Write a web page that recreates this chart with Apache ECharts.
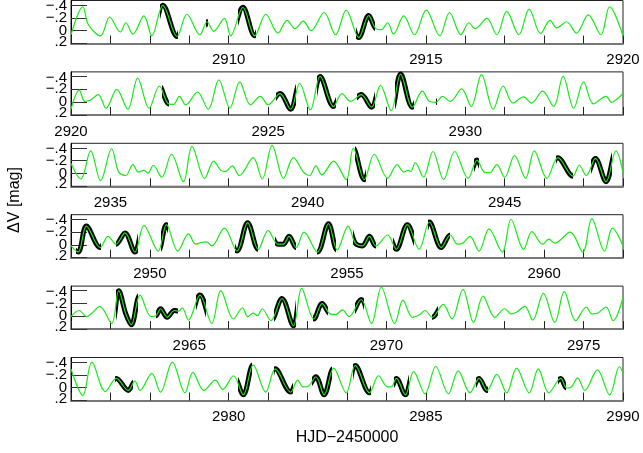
<!DOCTYPE html>
<html><head><meta charset="utf-8">
<script src="https://cdn.jsdelivr.net/npm/echarts@6/dist/echarts.min.js"></script>
<style>html,body{margin:0;padding:0;background:#fff}#c{width:643px;height:453px}</style>
</head><body><div id="c"></div>
<script>
// ---- data ----
const panelStarts = [2906, 2920, 2934, 2948, 2962, 2976];
const yTicks = [-0.4, -0.2, 0, 0.2];
const xTitle = 'HJD\u22122450000';
const yTitle = '\u0394V [mag]';

const model1 = [[2906.00,0.064],[2906.30,-0.373],[2906.44,-0.096],[2906.75,0.080],[2906.98,-0.213],[2907.25,0.021],[2907.39,-0.123],[2907.57,0.053],[2907.85,-0.229],[2908.05,0.080],[2908.33,-0.395],[2908.69,0.091],[2908.94,-0.256],[2909.27,0.064],[2909.45,-0.139],[2909.62,0.011],[2909.89,-0.192],[2910.05,0.080],[2910.36,-0.363],[2910.66,0.080],[2910.94,-0.256],[2911.25,0.037],[2911.48,-0.160],[2911.68,-0.032],[2911.89,-0.149],[2912.09,0.0],[2912.42,-0.283],[2912.71,0.064],[2912.98,-0.320],[2913.30,0.107],[2913.55,-0.235],[2913.73,-0.032],[2913.87,-0.016],[2914.03,-0.123],[2914.18,0.053],[2914.44,-0.229],[2914.71,0.064],[2915.01,-0.320],[2915.35,0.080],[2915.60,-0.283],[2915.89,0.064],[2916.09,-0.123],[2916.25,-0.032],[2916.55,-0.192],[2916.80,0.064],[2917.05,-0.299],[2917.36,0.064],[2917.62,-0.336],[2917.91,0.043],[2918.15,-0.160],[2918.32,-0.043],[2918.57,-0.139],[2918.82,0.037],[2919.12,-0.245],[2919.44,0.064],[2919.66,-0.373],[2920.00,0.080]];
const model2 = [[2920.00,0.112],[2920.21,-0.186],[2920.35,-0.011],[2920.48,-0.027],[2920.69,-0.117],[2920.89,0.096],[2921.16,-0.197],[2921.44,0.112],[2921.69,-0.372],[2921.98,0.096],[2922.24,-0.250],[2922.45,0.016],[2922.60,0.037],[2922.75,-0.090],[2922.91,0.043],[2923.21,-0.154],[2923.48,0.112],[2923.75,-0.346],[2924.03,0.096],[2924.28,-0.314],[2924.55,0.043],[2924.80,-0.090],[2925.00,0.043],[2925.30,-0.133],[2925.57,0.112],[2925.80,-0.293],[2926.07,0.122],[2926.32,-0.399],[2926.66,0.069],[2926.87,-0.133],[2927.09,-0.011],[2927.36,-0.117],[2927.62,0.080],[2927.85,-0.261],[2928.12,0.133],[2928.36,-0.436],[2928.66,0.080],[2928.91,-0.170],[2929.09,-0.011],[2929.25,0.005],[2929.42,-0.090],[2929.62,-0.011],[2929.91,-0.207],[2930.15,0.069],[2930.41,-0.426],[2930.71,0.112],[2930.96,-0.250],[2931.21,0.016],[2931.48,-0.080],[2931.68,0.016],[2931.96,-0.170],[2932.24,0.069],[2932.48,-0.399],[2932.75,0.096],[2933.00,-0.314],[2933.25,0.027],[2933.57,-0.090],[2933.71,0.005],[2933.85,-0.048],[2934.00,-0.133]];
const model3 = [[2934.00,-0.155],[2934.25,0.086],[2934.50,-0.353],[2934.75,0.112],[2935.03,-0.385],[2935.21,-0.021],[2935.39,0.032],[2935.57,-0.139],[2935.71,-0.021],[2935.85,-0.048],[2935.95,-0.005],[2936.09,-0.128],[2936.30,0.059],[2936.55,-0.299],[2936.85,0.128],[2937.07,-0.422],[2937.39,0.075],[2937.62,-0.193],[2937.80,-0.048],[2937.92,-0.032],[2938.09,-0.118],[2938.27,0.032],[2938.62,-0.246],[2938.85,0.086],[2939.10,-0.438],[2939.39,0.075],[2939.64,-0.246],[2939.91,-0.011],[2940.05,0.032],[2940.21,-0.118],[2940.36,0.021],[2940.66,-0.193],[2940.98,0.096],[2941.16,-0.396],[2941.44,0.096],[2941.69,-0.299],[2942.03,0.075],[2942.27,-0.139],[2942.44,-0.021],[2942.55,-0.048],[2942.62,-0.032],[2942.73,-0.171],[2942.94,0.059],[2943.18,-0.342],[2943.45,0.096],[2943.73,-0.342],[2944.07,0.075],[2944.30,-0.209],[2944.48,-0.021],[2944.62,-0.011],[2944.80,-0.139],[2945.00,0.059],[2945.25,-0.278],[2945.53,0.075],[2945.75,-0.353],[2946.07,0.075],[2946.35,-0.246],[2946.73,0.043],[2946.89,-0.128],[2947.07,0.032],[2947.30,-0.235],[2947.57,0.128],[2947.82,-0.353],[2948.00,-0.021]];
const model4 = [[2948.00,0.016],[2948.18,0.112],[2948.39,-0.293],[2948.74,0.043],[2948.94,-0.133],[2949.14,-0.011],[2949.37,-0.186],[2949.62,0.112],[2949.85,-0.303],[2950.21,0.096],[2950.42,-0.314],[2950.71,0.096],[2950.98,-0.170],[2951.16,-0.011],[2951.30,-0.037],[2951.44,-0.048],[2951.57,0.016],[2951.89,-0.261],[2952.21,0.096],[2952.48,-0.346],[2952.75,0.069],[2953.00,-0.223],[2953.25,-0.011],[2953.39,-0.011],[2953.53,-0.133],[2953.71,0.043],[2953.91,-0.197],[2954.25,0.112],[2954.53,-0.330],[2954.75,0.080],[2955.03,-0.293],[2955.21,-0.027],[2955.39,0.016],[2955.57,-0.133],[2955.73,0.016],[2956.03,-0.154],[2956.25,0.069],[2956.53,-0.314],[2956.83,0.069],[2957.09,-0.356],[2957.39,0.043],[2957.62,-0.154],[2957.80,-0.011],[2957.94,-0.027],[2958.12,-0.133],[2958.35,0.096],[2958.60,-0.250],[2958.94,0.112],[2959.16,-0.399],[2959.48,0.069],[2959.69,-0.207],[2959.96,-0.011],[2960.12,-0.090],[2960.27,-0.027],[2960.66,-0.197],[2960.98,0.112],[2961.21,-0.410],[2961.53,0.096],[2961.73,-0.261],[2962.00,0.016]];
const model5 = [[2962.00,0.005],[2962.21,-0.090],[2962.39,0.005],[2962.53,-0.048],[2962.73,-0.154],[2963.03,0.112],[2963.21,-0.399],[2963.39,-0.037],[2963.53,0.133],[2963.75,-0.330],[2964.03,0.005],[2964.16,-0.011],[2964.27,-0.117],[2964.44,0.016],[2964.62,-0.090],[2964.73,-0.080],[2964.82,-0.133],[2964.98,0.059],[2965.27,-0.330],[2965.57,0.112],[2965.80,-0.399],[2966.12,0.043],[2966.35,-0.133],[2966.48,0.005],[2966.62,-0.048],[2966.73,-0.011],[2966.85,-0.117],[2967.07,0.069],[2967.35,-0.277],[2967.64,0.149],[2967.85,-0.436],[2968.16,0.043],[2968.37,-0.197],[2968.57,-0.037],[2968.71,-0.027],[2968.89,-0.101],[2969.05,0.005],[2969.36,-0.261],[2969.62,0.112],[2969.87,-0.452],[2970.21,0.112],[2970.42,-0.250],[2970.66,0.016],[2970.85,-0.027],[2970.98,-0.090],[2971.16,0.016],[2971.44,-0.186],[2971.66,0.043],[2971.94,-0.420],[2972.21,0.096],[2972.45,-0.314],[2972.75,0.016],[2973.00,-0.117],[2973.16,-0.037],[2973.30,-0.064],[2973.51,-0.154],[2973.71,0.059],[2973.98,-0.356],[2974.27,0.096],[2974.51,-0.383],[2974.80,0.069],[2975.07,-0.144],[2975.21,-0.037],[2975.35,-0.048],[2975.57,-0.144],[2975.75,0.069],[2976.00,-0.293]];
const model6 = [[2976.00,-0.293],[2976.30,0.122],[2976.53,-0.399],[2976.87,0.059],[2977.15,-0.144],[2977.45,0.043],[2977.62,-0.101],[2977.75,0.043],[2978.05,-0.223],[2978.27,0.069],[2978.57,-0.399],[2978.89,0.080],[2979.09,-0.239],[2979.37,0.043],[2979.66,-0.117],[2979.85,0.027],[2980.12,-0.186],[2980.37,0.112],[2980.62,-0.356],[2980.94,0.069],[2981.18,-0.293],[2981.57,0.069],[2981.75,-0.117],[2981.89,-0.011],[2982.03,-0.027],[2982.21,-0.170],[2982.42,0.112],[2982.66,-0.303],[2982.98,0.080],[2983.21,-0.346],[2983.57,0.080],[2983.80,-0.186],[2984.03,-0.011],[2984.12,-0.011],[2984.25,-0.144],[2984.48,0.112],[2984.69,-0.250],[2984.98,0.096],[2985.25,-0.330],[2985.57,0.096],[2985.82,-0.261],[2986.12,0.080],[2986.35,-0.144],[2986.55,0.043],[2986.80,-0.207],[2987.05,0.080],[2987.30,-0.303],[2987.62,0.080],[2987.85,-0.293],[2988.12,0.080],[2988.42,-0.144],[2988.57,0.005],[2988.69,-0.011],[2988.85,-0.154],[2989.03,0.043],[2989.35,-0.277],[2989.66,0.112],[2989.91,-0.330],[2990.00,-0.223]];

// time intervals covered by the observed (black) photometry
const observedIntervals = [
  [2908.25,2908.71],[2909.42,2909.47],[2910.24,2910.69],[2913.24,2913.71],
  [2922.30,2922.48],[2925.21,2925.71],[2926.23,2926.71],[2927.25,2927.71],[2928.21,2928.71],[2929.25,2929.29],
  [2941.20,2941.47],[2944.21,2944.36],[2946.31,2946.73],[2947.18,2947.73],
  [2948.12,2948.75],[2949.15,2949.71],[2950.27,2950.46],[2952.16,2952.75],[2953.18,2953.71],[2954.25,2954.73],[2955.16,2955.73],[2956.16,2956.71],[2957.05,2957.62],
  [2963.15,2963.71],[2964.15,2964.71],[2965.16,2965.42],[2967.16,2967.71],[2968.15,2968.53],[2969.21,2969.42],[2971.15,2971.31],
  [2977.12,2977.57],[2980.24,2980.60],[2981.15,2981.62],[2982.12,2982.62],[2983.16,2983.60],[2984.18,2984.57],[2986.28,2986.57],[2988.35,2988.55]
];

// ---- chart ----
const models = [model1, model2, model3, model4, model5, model6];
const FONT = '"Liberation Sans", Arial, Helvetica, sans-serif';
const TOP0 = 0.5, STEP = 71.4, H = 43;
const labelStyleKey = {'-0.4': 'd', '-0.2': 'n', '0': 'n', '0.2': 'u'};
const fmtY = v => {
  const t = v === 0 ? '0' : (v < 0 ? '\u2212' : '') + '.' + Math.round(Math.abs(v) * 10);
  const k = labelStyleKey[String(Math.round(v * 10) / 10)] || 'n';
  return '{' + k + '|' + t + '}';
};
const richBase = {fontSize: 15, fontFamily: FONT, color: '#000'};
const rich = {
  n: Object.assign({}, richBase),
  d: Object.assign({}, richBase, {padding: [2, 0, 0, 0]}),
  u: Object.assign({}, richBase, {padding: [0, 0, 4, 0]})
};
// alternate tick labels are carried by two twin axes (avoids automatic overlap hiding)
const labelsA = yTicks.filter((_, k) => k % 2 === 0);
const labelsB = yTicks.filter((_, k) => k % 2 === 1);
const grids = [], xAxes = [], yAxes = [], series = [], blackIdx = [];
models.forEach((m, i) => {
  grids.push({left: 71, right: 20, top: TOP0 + STEP * i, height: H, show: true, borderColor: '#222', borderWidth: 1,
    outerBoundsMode: 'none', containLabel: false});
  xAxes.push({gridIndex: i, type: 'value', min: panelStarts[i], max: panelStarts[i] + 14, interval: 1,
    axisLine: {show: true, onZero: false, lineStyle: {color: '#777', width: 2}},
    axisTick: {show: true, inside: true, length: 8, lineStyle: {color: '#222', width: 1}},
    axisLabel: {show: true, margin: 9, fontSize: 15, color: '#000', fontFamily: FONT,
      showMinLabel: true, showMaxLabel: true,
      formatter: v => (Math.round(v) % 5 === 0 ? String(Math.round(v)) : '')},
    splitLine: {show: false},
    name: i === 5 ? xTitle : '', nameLocation: 'middle', nameGap: 29,
    nameTextStyle: {fontSize: 16, color: '#000', fontFamily: FONT}});
  const yi = yAxes.length;
  yAxes.push({gridIndex: i, type: 'value', inverse: true, min: -0.47, max: 0.2, position: 'left',
    axisLine: {show: true, onZero: false, lineStyle: {color: '#000', width: 1}},
    axisTick: {show: true, inside: true, length: 16, customValues: yTicks, lineStyle: {color: '#333', width: 1}},
    axisLabel: {show: true, customValues: labelsA, margin: 4, color: '#000', fontFamily: FONT, fontSize: 15,
      formatter: fmtY, rich: rich},
    splitLine: {show: false}});
  yAxes.push({gridIndex: i, type: 'value', inverse: true, min: -0.47, max: 0.2, position: 'left', offset: 0,
    axisLine: {show: false}, axisTick: {show: false},
    axisLabel: {show: true, customValues: labelsB, margin: 4, color: '#000', fontFamily: FONT, fontSize: 15,
      formatter: fmtY, rich: rich},
    splitLine: {show: false}});
  blackIdx.push(series.length);
  series.push({type: 'line', xAxisIndex: i, yAxisIndex: yi, data: m, smooth: 0.35, showSymbol: false, silent: true,
    lineStyle: {width: 5}, z: 2, animation: false});
  series.push({type: 'line', xAxisIndex: i, yAxisIndex: yi, data: m, smooth: 0.35, showSymbol: false, silent: true,
    lineStyle: {color: '#18e818', width: 1.2}, z: 3, animation: false});
});

const chart = echarts.init(document.getElementById('c'), null, {renderer: 'canvas'});
chart.setOption({
  animation: false,
  backgroundColor: '#fff',
  grid: grids, xAxis: xAxes, yAxis: yAxes, series: series,
  visualMap: [{type: 'piecewise', show: false, dimension: 0, seriesIndex: blackIdx,
    pieces: observedIntervals.map(([a, b]) => ({gte: a, lte: b, color: '#000'})),
    outOfRange: {color: 'rgba(255,255,255,0)'}}],
  graphic: [{type: 'text', x: 15, y: 200, rotation: Math.PI / 2,
    style: {text: yTitle, fontSize: 16, fontFamily: FONT, fill: '#000', textAlign: 'center', textVerticalAlign: 'middle'}}]
});
</script></body></html>
